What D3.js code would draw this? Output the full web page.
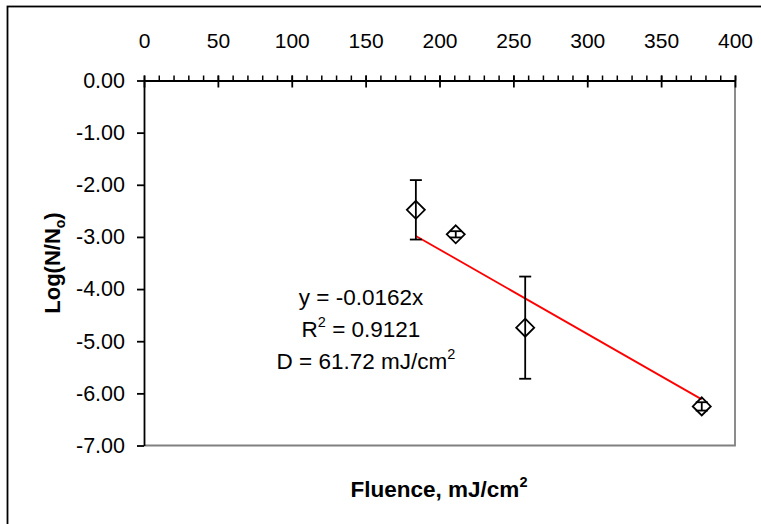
<!DOCTYPE html>
<html><head><meta charset="utf-8">
<script src="https://cdn.jsdelivr.net/npm/d3@7"></script>
<style>body{margin:0;background:#fff}svg{display:block}text{font-family:"Liberation Sans",Arial,sans-serif}</style>
</head><body>
<script>
const fluence = [184, 211, 258, 377.5];
const logReduction = [-2.48, -2.95, -4.74, -6.25];
const errorValues = [0.57, 0.06, 0.98, 0.08];
const trendSlope = -0.0162;
const xMajorTicks = [0, 50, 100, 150, 200, 250, 300, 350, 400];
const xMinorTicks = d3.range(0, 401, 10);
const yMajorTicks = [0, -1, -2, -3, -4, -5, -6, -7];
const eqLine1 = "y = -0.0162x";
const eqLine2 = ["R", "2", " = 0.9121"];
const eqLine3 = ["D = 61.72 mJ/cm", "2"];
const xTitle = ["Fluence, mJ/cm", "2"];
const yTitle = ["Log(N/N", "o", ")"];

const W = 761, H = 524;
const svg = d3.select("body").append("svg").attr("width", W).attr("height", H);
svg.append("rect").attr("width", W).attr("height", H).attr("fill", "#fff");
svg.append("rect").attr("x", 7.5).attr("y", 6.5).attr("width", W + 20).attr("height", H + 20)
  .attr("fill", "none").attr("stroke", "#000").attr("stroke-width", 1.8);

const x = d3.scaleLinear().domain([0, 400]).range([144, 735]);
const y = d3.scaleLinear().domain([0, -7]).range([80.5, 445.5]);

// plot area border (gray right/bottom)
svg.append("path")
  .attr("d", `M${x(400)},${y(0)}V${y(-7)}H${x(0)}`)
  .attr("fill", "none").attr("stroke", "#808080").attr("stroke-width", 1.8);

// top x axis: minor ticks outside
const gxMinor = svg.append("g").attr("transform", `translate(0,${y(0)})`)
  .call(d3.axisTop(x).tickValues(xMinorTicks).tickSize(5).tickFormat(""));
gxMinor.select(".domain").remove();
gxMinor.selectAll("line").attr("stroke", "#000").attr("stroke-width", 1.5);

const gx = svg.append("g").attr("transform", `translate(0,${y(0)})`)
  .call(d3.axisTop(x).tickValues(xMajorTicks).tickSizeInner(5).tickSizeOuter(0).tickPadding(28).tickFormat(d3.format("d")));
gx.select(".domain").attr("stroke", "#000").attr("stroke-width", 1.8);
gx.selectAll(".tick line").attr("stroke", "#000").attr("stroke-width", 1.8).attr("y2", -5).attr("y1", 7);
gx.selectAll("text").attr("font-size", 21).attr("fill", "#000");

// left y axis
const gy = svg.append("g").attr("transform", `translate(${x(0)},0)`)
  .call(d3.axisLeft(y).tickValues(yMajorTicks).tickSizeInner(7).tickSizeOuter(0).tickPadding(12).tickFormat(d3.format(".2f")));
gy.select(".domain").attr("stroke", "#000").attr("stroke-width", 1.8);
gy.selectAll(".tick line").attr("stroke", "#000").attr("stroke-width", 1.8);
gy.selectAll("text").attr("font-size", 21.5).attr("fill", "#000").text(d => d === 0 ? "0.00" : d3.format(".2f")(d).replace("−", "-"));

// trendline
const xmin = d3.min(fluence), xmax = d3.max(fluence);
svg.append("line")
  .attr("x1", x(xmin)).attr("y1", y(trendSlope * xmin))
  .attr("x2", x(xmax)).attr("y2", y(trendSlope * xmax))
  .attr("stroke", "#ff0000").attr("stroke-width", 1.8);

// error bars
const pts = fluence.map((f, i) => ({f, v: logReduction[i], e: errorValues[i]}));
const eb = svg.append("g").attr("stroke", "#000").attr("stroke-width", 1.8).attr("fill", "none");
pts.forEach(p => {
  const cx = x(p.f);
  eb.append("line").attr("x1", cx).attr("x2", cx).attr("y1", y(p.v + p.e)).attr("y2", y(p.v - p.e));
  [p.v + p.e, p.v - p.e].forEach(v => {
    eb.append("line").attr("x1", cx - 6).attr("x2", cx + 6).attr("y1", y(v)).attr("y2", y(v));
  });
});

// diamond markers
svg.append("g").selectAll("path").data(pts).join("path")
  .attr("d", p => { const cx = x(p.f), cy = y(p.v), r = 9; return `M${cx},${cy - r}L${cx + r},${cy}L${cx},${cy + r}L${cx - r},${cy}Z`; })
  .attr("fill", "none").attr("stroke", "#000").attr("stroke-width", 1.8);

// equation text
const eqX = 361;
const eq = svg.append("g").attr("font-size", 22.5).attr("fill", "#000").attr("text-anchor", "middle");
eq.append("text").attr("x", eqX).attr("y", 305).text(eqLine1);
const t2 = eq.append("text").attr("x", eqX).attr("y", 337);
t2.append("tspan").text(eqLine2[0]);
t2.append("tspan").attr("dy", -10).attr("font-size", 14.5).text(eqLine2[1]);
t2.append("tspan").attr("dy", 10).text(eqLine2[2]);
const t3 = eq.append("text").attr("x", eqX + 5).attr("y", 369);
t3.append("tspan").text(eqLine3[0]);
t3.append("tspan").attr("dy", -10).attr("font-size", 14.5).text(eqLine3[1]);

// x title
const xt = svg.append("text").attr("x", 439).attr("y", 497).attr("text-anchor", "middle")
  .attr("font-size", 22.5).attr("font-weight", "bold").attr("fill", "#000");
xt.append("tspan").text(xTitle[0]);
xt.append("tspan").attr("dy", -10).attr("font-size", 14.5).text(xTitle[1]);

// y title
const yt = svg.append("text").attr("transform", `translate(60,263) rotate(-90)`).attr("text-anchor", "middle")
  .attr("font-size", 22).attr("font-weight", "bold").attr("fill", "#000");
yt.append("tspan").text(yTitle[0]);
yt.append("tspan").attr("dy", 5).attr("font-size", 14).text(yTitle[1]);
yt.append("tspan").attr("dy", -5).text(yTitle[2]);
</script>
</body></html>
